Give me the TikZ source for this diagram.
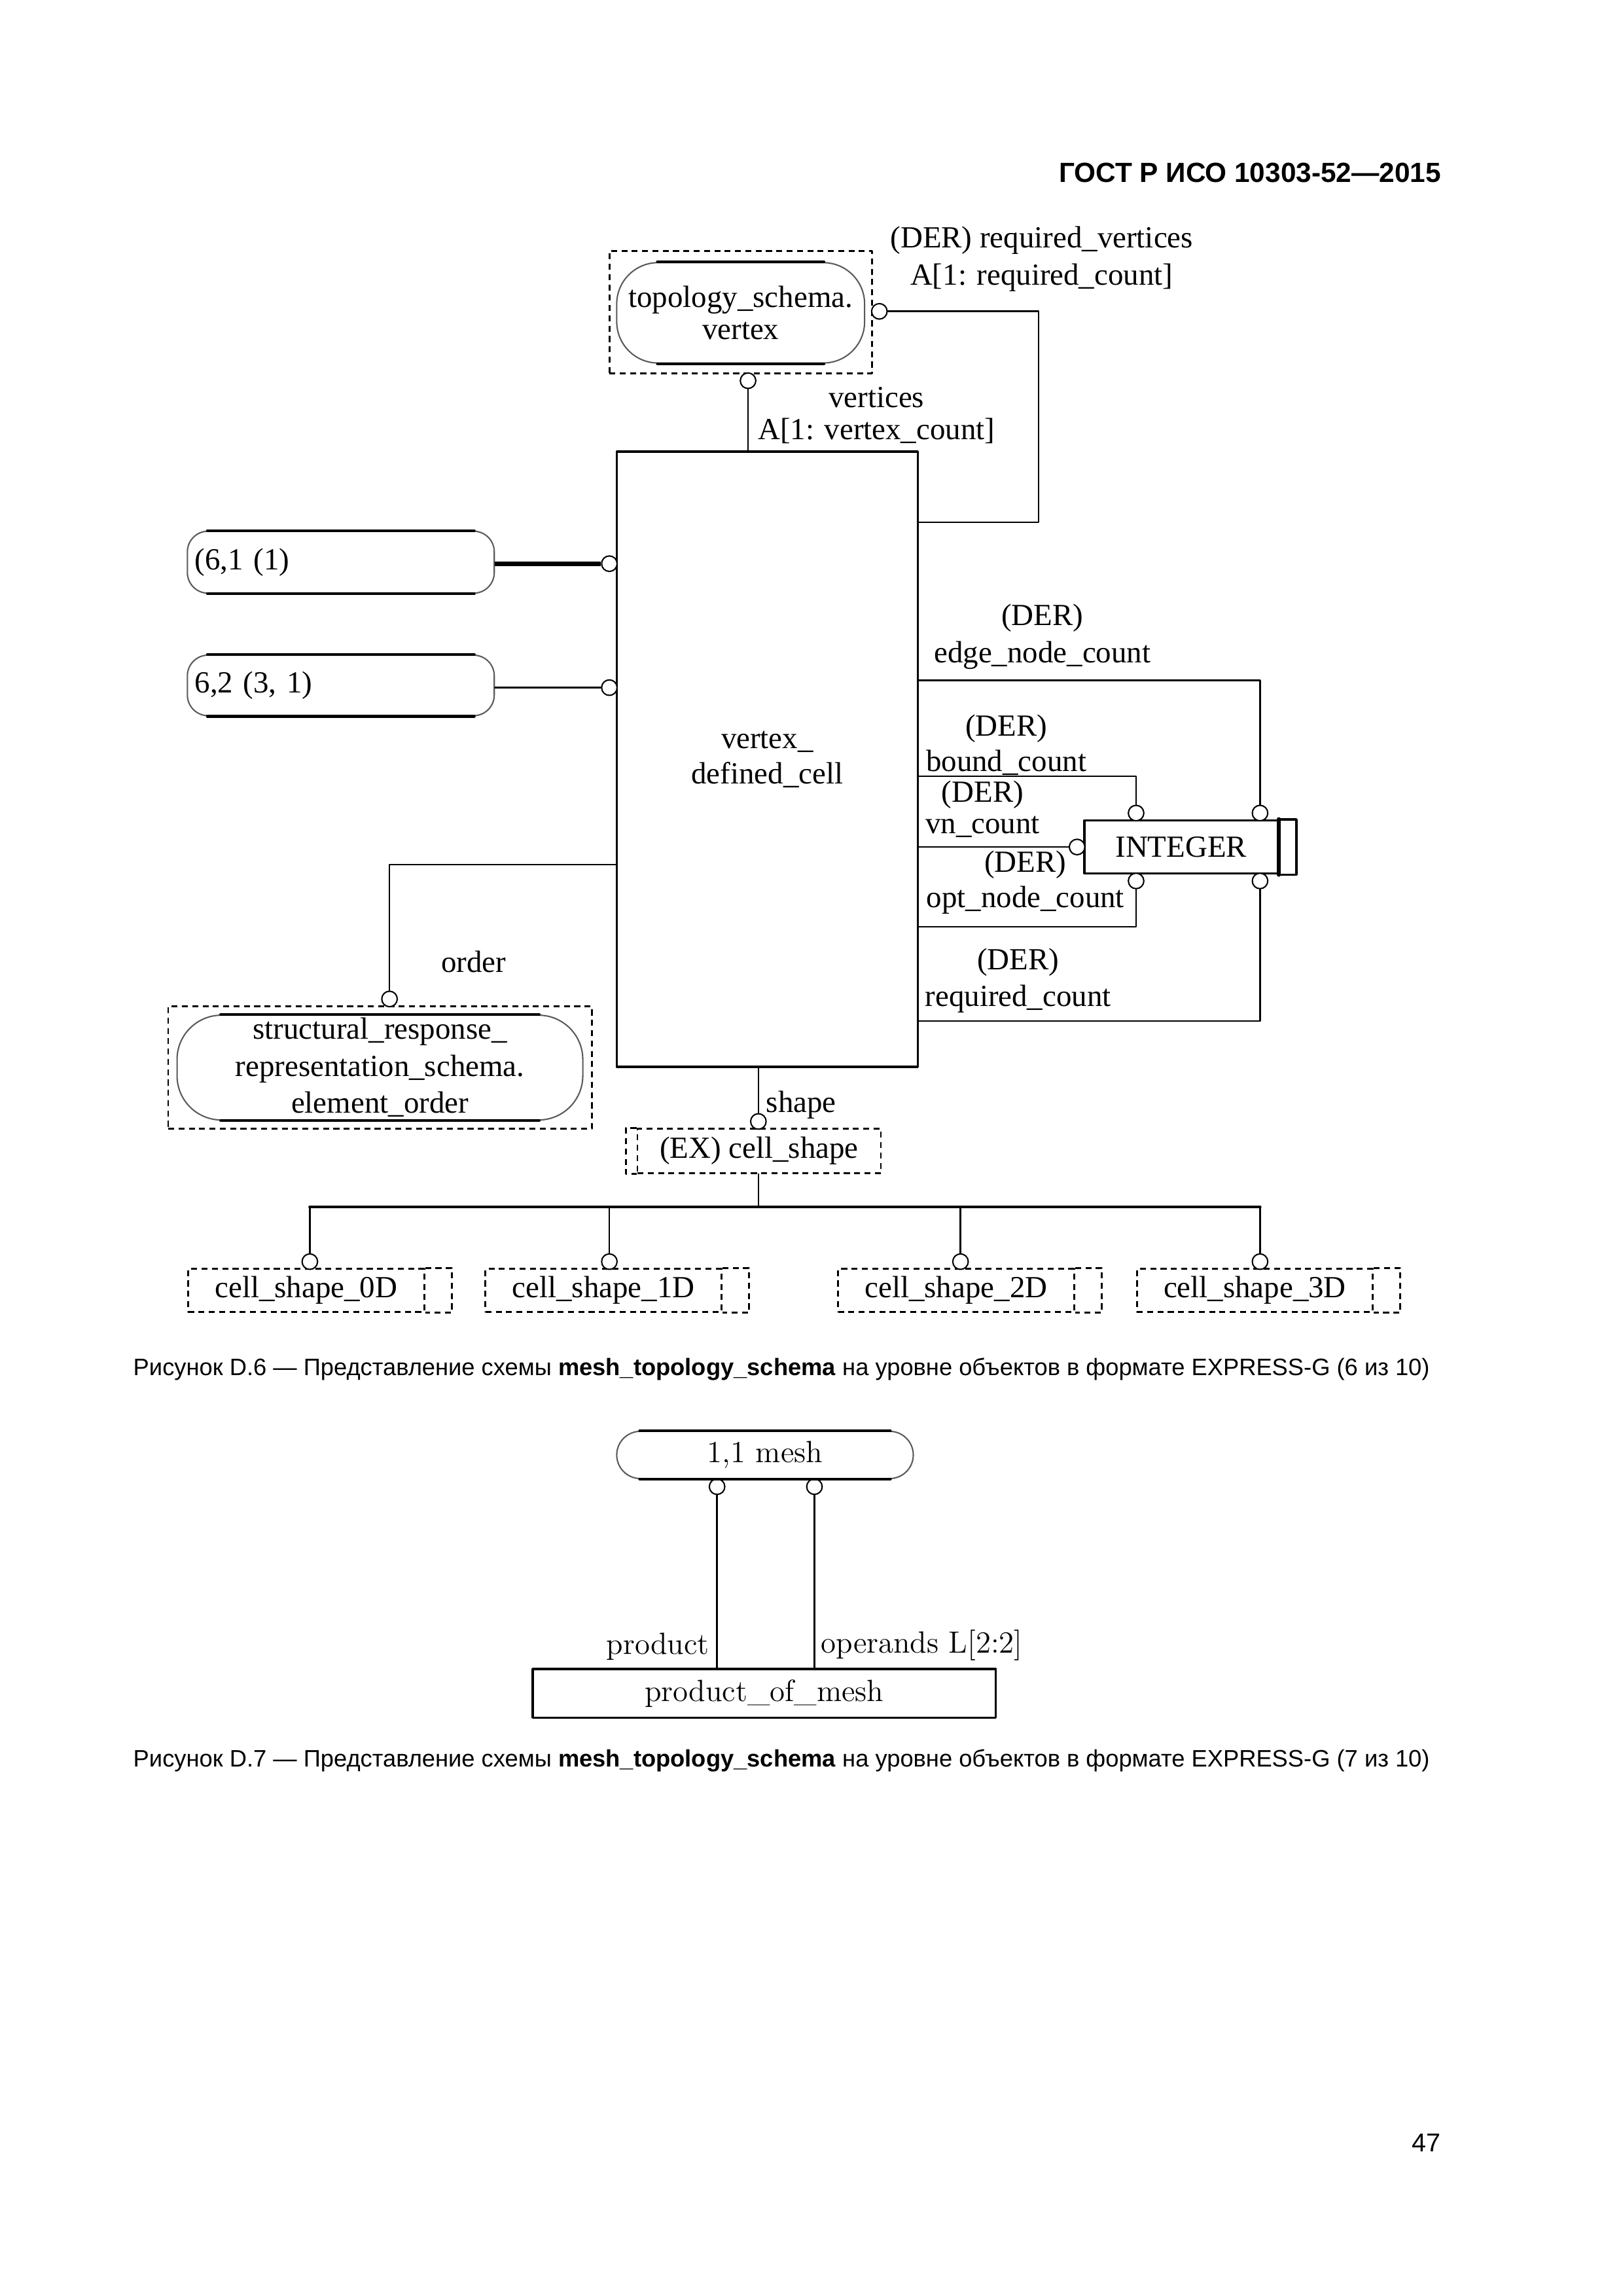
\documentclass[tikz,border=0pt]{standalone}
\usepackage{fontspec}
\newfontfamily\diagfont{Liberation Serif}
\newfontfamily\capfont{Liberation Sans}

\newlength{\pxl}
\setlength{\pxl}{0.19091mm}
\newcommand{\dfont}{\diagfont\fontsize{11.3}{13.6}\selectfont}
\newcommand{\mfont}{\rmfamily\fontsize{11.3}{13.6}\selectfont}

\begin{document}
\begin{tikzpicture}[x=0.19091mm,y=-0.19091mm,line cap=round,line join=round,
	ent/.style={draw,line width=0.8pt,inner sep=0pt,font=\dfont,align=center},
	dbox/.style={ent,line width=0.7pt,line cap=butt,dash pattern=on 2.2pt off 1.6pt},
	pref/.style={ent,draw=black!65,line width=0.5pt,rounded corners=#1},
	ocirc/.style={circle,draw,line width=0.5pt,minimum size=10.5\pxl,inner sep=0pt,fill=white},
	rel/.style={line width=0.6pt},
	lbl/.style={font=\dfont,align=center,inner sep=0pt},
	capt/.style={font=\capfont\fontsize{8.75}{10.5}\selectfont,inner sep=0pt}]
	\useasboundingbox (0,0) rectangle (1100,1556);
	\node[anchor=east,inner sep=0pt,font=\capfont\bfseries\fontsize{10.2}{12}\selectfont] (hdr) at (977,117) {ГОСТ Р ИСО 10303-52—2015};

	% figure D.6
	\node[dbox,minimum width=178\pxl,minimum height=83\pxl] (vdash) at (502,211.5) {};
	\node[pref=28\pxl,minimum width=168\pxl,minimum height=68\pxl] (vtx) at (502,212) {topology\_schema.\\[-1.6pt]vertex};
	\node[ent,minimum width=204\pxl,minimum height=417\pxl] (cell) at (520,514.5) {vertex\_\\[-0.6pt]defined\_cell};
	\node[pref=14\pxl,minimum width=208\pxl,minimum height=42\pxl,text width=198\pxl,align=left] (p61) at (231,381) {(6,1 (1)};
	\node[pref=14\pxl,minimum width=208\pxl,minimum height=41\pxl,text width=198\pxl,align=left] (p62) at (231,464.5) {6,2 (3, 1)};
	\node[ent,minimum width=131\pxl,minimum height=36\pxl] (int) at (800.5,574) {INTEGER};
	\draw [line width=0.8pt] (int.north east) -- ++(12,0) |- (int.south east);
	\draw [line width=1.6pt] (int.north east) -- (int.south east);
	\node[dbox,minimum width=287\pxl,minimum height=83\pxl] (sdash) at (257.5,723.5) {};
	\node[pref=30\pxl,minimum width=275\pxl,minimum height=71\pxl] (eord) at (257.5,723.5) {structural\_response\_\\representation\_schema.\\element\_order};
	\node[dbox,minimum width=165\pxl,minimum height=30\pxl] (cs) at (514.5,780) {(EX) cell\_shape};
	\draw [dbox] (cs.north west) -- ++(-7,0) |- (cs.south west);
	\foreach \i/\x/\d in {0/207.5/0D,1/409/1D,2/648/2D,3/850.5/3D} {
		\node[dbox,minimum width=160\pxl,minimum height=29\pxl] (s\i) at (\x,874.5) {cell\_shape\_\d};
		\draw [dbox] (s\i.north east) -- ++(18,0) |- (s\i.south east);
	}

	% circles
	\node[ocirc] (rv) at (596,211) {};
	\node[ocirc] (vt) at (507,258) {};
	\node[ocirc] (c61) at (413,382) {};
	\node[ocirc] (c62) at (413,466) {};
	\node[ocirc] (cen) at (854,551) {};
	\node[ocirc] (cbc) at (770,551) {};
	\node[ocirc] (cvn) at (730,574) {};
	\node[ocirc] (con) at (770,597) {};
	\node[ocirc] (crc) at (854,597) {};
	\node[ocirc] (cord) at (264,677) {};
	\node[ocirc] (csh) at (514,760) {};
	\foreach \i/\x in {0/210,1/413,2/651,3/854}
		\node[ocirc] (c\i) at (\x,855) {};

	% relations
	\coordinate (krv) at (704,354);
	\coordinate (ken) at (622,461);
	\coordinate (kbc) at (622,526);
	\coordinate (kon) at (622,628);
	\coordinate (krc) at (622,692);
	\coordinate (kor) at (418,586);
	\coordinate (ktr) at (514,818);
	\draw [rel] (rv.east) -| (krv) -- (krv -| cell.east);
	\draw [rel] (vt.south) -- (vt.south |- cell.north);
	\draw [rel,line width=1.7pt,line cap=butt] (p61.east |- c61) -- (c61.west);
	\draw [rel] (p62.east |- c62) -- (c62.west);
	\draw [rel] (cell.east |- ken) -| (cen.north);
	\draw [rel] (cell.east |- kbc) -| (cbc.north);
	\draw [rel] (cell.east |- cvn) -- (cvn.west);
	\draw [rel] (cell.east |- kon) -| (con.south);
	\draw [rel] (cell.east |- krc) -| (crc.south);
	\draw [rel] (cell.west |- kor) -| (cord.north);
	\draw [rel] (cell.south -| csh) -- (csh.north);
	\draw [rel] (cs.south -| ktr) -- (ktr);
	\draw [line width=1.1pt] (ktr -| c0) -- (ktr -| c3);
	\foreach \i in {0,...,3}
		\draw [rel] (ktr -| c\i) -- (c\i.north);

	% labels
	\node[lbl] (lrv) at (706,175.5) {(DER) required\_vertices\\A[1: required\_count]};
	\node[lbl] (lvt) at (594,281.5) {vertices\\[-2pt]A[1: vertex\_count]};
	\node[lbl] (len) at (706.5,431.5) {(DER)\\edge\_node\_count};
	\node[lbl] (lbc) at (682,505) {(DER)\\[-0.6pt]bound\_count};
	\node[lbl] (lvn) at (666,548.5) {(DER)\\[-2pt]vn\_count};
	\node[lbl] (lon) at (695,598) {(DER)\\[-0.6pt]opt\_node\_count};
	\node[lbl] (lrc) at (690,664.5) {(DER)\\required\_count};
	\node[lbl] (lor) at (321,652) {order};
	\node[lbl,anchor=west] (lsh) at (519,749) {shape};
	\node[capt,anchor=west] (cap6) at (90,928) {Рисунок D.6 — Представление схемы \textbf{mesh\_topology\_schema} на уровне объектов в формате EXPRESS-G (6 из 10)};

	% figure D.7
	\node[pref=16\pxl,font=\mfont,minimum width=201\pxl,minimum height=32\pxl] (mesh) at (518.5,986) {1,1 mesh};
	\node[ent,font=\mfont,minimum width=314\pxl,minimum height=33\pxl] (pom) at (518,1147.5) {product\_of\_mesh};
	\node[ocirc] (cm1) at (486,1007.5) {};
	\node[ocirc] (cm2) at (552,1007.5) {};
	\draw [rel] (cm1.south) -- (cm1.south |- pom.north);
	\draw [rel] (cm2.south) -- (cm2.south |- pom.north);
	\node[lbl,font=\mfont,anchor=east] (lpr) at (481,1116) {product};
	\node[lbl,font=\mfont,anchor=west] (lop) at (556,1115) {operands L[2:2]};
	\node[capt,anchor=west] (cap7) at (90,1193) {Рисунок D.7 — Представление схемы \textbf{mesh\_topology\_schema} на уровне объектов в формате EXPRESS-G (7 из 10)};

	% straight edges of the page references
	\foreach \n/\r in {vtx/28,p61/14,p62/14,eord/30,mesh/16}
		\draw [line width=1pt] ([xshift=\r\pxl]\n.north west) -- ([xshift=-\r\pxl]\n.north east)
			([xshift=\r\pxl]\n.south west) -- ([xshift=-\r\pxl]\n.south east);

	\node[anchor=east,inner sep=0pt,font=\capfont\fontsize{9.5}{12}\selectfont] (pg) at (977,1452) {47};
\end{tikzpicture}
\end{document}
